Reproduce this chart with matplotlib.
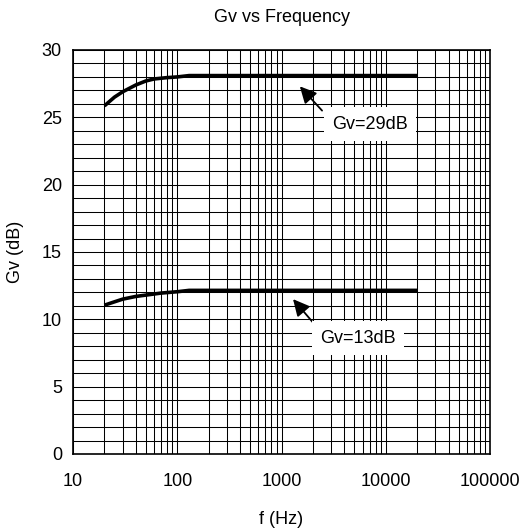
import numpy as np
import matplotlib
matplotlib.use("Agg")
import matplotlib.pyplot as plt

plt.rcParams['font.family'] = ['Liberation Sans', 'DejaVu Sans']

# curve data
freq_29 = [20, 25, 30, 40, 50, 60, 80, 100, 130, 20000]
gain_29 = [25.85, 26.5, 26.9, 27.4, 27.7, 27.85, 27.95, 28.0, 28.1, 28.1]

freq_13 = [20, 25, 30, 40, 50, 70, 100, 130, 20000]
gain_13 = [11.05, 11.3, 11.5, 11.7, 11.8, 11.95, 12.05, 12.15, 12.15]

x_ticks = [10, 100, 1000, 10000, 100000]
x_tick_labels = ['10', '100', '1000', '10000', '100000']
y_ticks = [0, 5, 10, 15, 20, 25, 30]

fs = 13

fig = plt.figure(figsize=(5.30, 5.31), dpi=100)
ax = fig.add_axes([73/530, 1 - 454/531, 417/530, 404/531])

ax.set_xscale('log')
ax.set_xlim(10, 100000)
ax.set_ylim(0, 30)

# grid: every 1 dB and every 1-2-..-9 on log axis
for d in range(1, 31):
    ax.axhline(d, color='black', lw=0.75, zorder=1)
for dec in [10, 100, 1000, 10000]:
    for m in range(1, 10):
        ax.axvline(dec * m, color='black', lw=0.75, zorder=1)

ax.plot(freq_29, gain_29, color='black', lw=2.6, solid_capstyle='butt', zorder=3)
ax.plot(freq_13, gain_13, color='black', lw=2.6, solid_capstyle='butt', zorder=3)

arrow = dict(arrowstyle='-|>,head_length=1.0,head_width=0.5', color='black', lw=1.3,
             shrinkA=0, shrinkB=0)
ax.annotate('', xy=(1500, 27.3), xytext=(2450, 25.5), arrowprops=arrow, zorder=4)
ax.annotate('', xy=(1290, 11.5), xytext=(2090, 9.6), arrowprops=arrow, zorder=4)

box = dict(facecolor='white', edgecolor='none', pad=6)
ax.text(7060, 24.5, 'Gv=29dB', ha='center', va='center', fontsize=fs, bbox=box, zorder=5)
ax.text(5420, 8.6, 'Gv=13dB', ha='center', va='center', fontsize=fs, bbox=box, zorder=5)

ax.set_xticks(x_ticks)
ax.set_xticklabels(x_tick_labels)
ax.xaxis.set_minor_locator(matplotlib.ticker.NullLocator())
ax.set_yticks(y_ticks)
ax.tick_params(axis='both', labelsize=fs, length=0)
ax.tick_params(axis='x', pad=14)
ax.tick_params(axis='y', pad=8)
for s in ax.spines.values():
    s.set_color('black')
    s.set_linewidth(1.2)

ax.set_xlabel('f (Hz)', fontsize=fs, labelpad=15)
ax.set_ylabel('Gv (dB)', fontsize=fs, labelpad=13)
ax.set_title('Gv vs Frequency', fontsize=fs, pad=20)

fig.savefig('out.png', dpi=100)
